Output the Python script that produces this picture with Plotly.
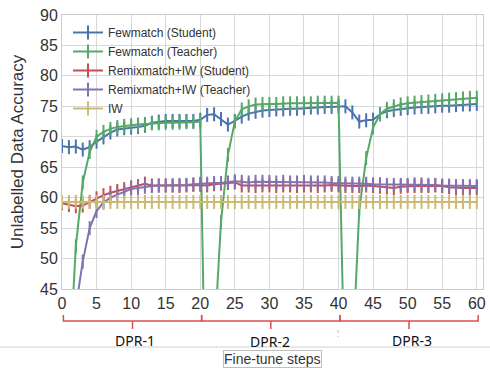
import plotly.graph_objects as go

steps = list(range(61))

fewmatch_student = [68.5, 68.3, 68.4, 67.9, 68.3, 69.2, 69.9, 70.7, 71.2, 71.4,
                    71.5, 71.6, 71.8, 72.3, 72.5, 72.6, 72.6, 72.6, 72.6, 72.6,
                    72.8, 73.6, 73.7, 72.9, 72.0, 72.6, 73.3, 73.8, 74.1, 74.3,
                    74.4, 74.5, 74.5, 74.6, 74.6, 74.7, 74.8, 74.8, 74.9, 74.9,
                    75.0, 75.0, 74.0, 72.5, 72.7, 72.8, 73.7, 74.2, 74.4, 74.6,
                    74.7, 74.8, 74.9, 74.9, 75.0, 75.1, 75.1, 75.2, 75.3, 75.3,
                    75.4]
fewmatch_teacher = [15.0, 31.0, 52.0, 62.5, 67.5, 70.0, 70.8, 71.3, 71.6, 71.8,
                    71.9, 72.0, 72.1, 72.2, 72.2, 72.3, 72.3, 72.3, 72.4, 72.4,
                    72.5, 10.0, 36.0, 56.0, 67.0, 72.5, 74.5, 75.0, 75.3, 75.4,
                    75.4, 75.4, 75.5, 75.5, 75.5, 75.5, 75.5, 75.6, 75.6, 75.6,
                    75.6, 24.0, 33.0, 58.0, 66.5, 71.5, 73.7, 74.6, 75.0, 75.3,
                    75.5, 75.6, 75.7, 75.8, 75.9, 76.0, 76.1, 76.2, 76.3, 76.4,
                    76.4]
remix_student = [59.1, 58.8, 58.6, 58.7, 59.3, 59.9, 60.4, 60.8, 61.1, 61.4,
                 61.7, 61.9, 62.3, 62.0, 62.0, 62.0, 62.0, 61.9, 62.0, 62.1,
                 62.1, 62.0, 62.2, 62.3, 62.4, 62.5, 62.0, 62.0, 61.9, 62.0,
                 62.0, 61.9, 62.0, 62.0, 61.9, 62.0, 62.0, 61.9, 62.0, 62.1,
                 62.0, 61.9, 61.9, 61.9, 62.0, 61.9, 61.8, 61.7, 61.6, 61.8,
                 61.9, 61.9, 61.9, 61.9, 62.0, 61.9, 61.7, 61.6, 61.6, 61.6,
                 61.6]
remix_teacher = [28.0, 36.0, 42.0, 49.5, 55.0, 57.8, 59.2, 60.0, 60.5, 61.0,
                 61.4, 61.6, 61.8, 61.9, 62.0, 62.0, 62.0, 62.1, 62.1, 62.2,
                 62.3, 62.3, 62.4, 62.4, 62.5, 62.7, 62.6, 62.5, 62.6, 62.6,
                 62.6, 62.5, 62.6, 62.5, 62.5, 62.6, 62.5, 62.5, 62.5, 62.4,
                 62.4, 62.3, 62.3, 62.3, 62.3, 62.2, 62.2, 62.1, 62.1, 62.1,
                 62.1, 62.2, 62.2, 62.1, 62.1, 62.0, 62.0, 61.9, 61.9, 61.9,
                 61.9]
iw = [59.3, 59.3, 59.3, 59.3, 59.3, 59.3, 59.3, 59.3, 59.3, 59.3,
      59.3, 59.3, 59.3, 59.3, 59.3, 59.3, 59.3, 59.3, 59.3, 59.3,
      59.3, 59.3, 59.3, 59.3, 59.3, 59.3, 59.3, 59.3, 59.3, 59.3,
      59.3, 59.3, 59.3, 59.3, 59.3, 59.3, 59.3, 59.3, 59.3, 59.3,
      59.3, 59.3, 59.3, 59.3, 59.3, 59.3, 59.3, 59.3, 59.3, 59.3,
      59.3, 59.3, 59.3, 59.3, 59.3, 59.3, 59.3, 59.3, 59.3, 59.3,
      59.3]

series_names = ["Fewmatch (Student)", "Fewmatch (Teacher)", "Remixmatch+IW (Student)",
                "Remixmatch+IW (Teacher)", "IW"]
series_values = [fewmatch_student, fewmatch_teacher, remix_student, remix_teacher, iw]
series_colors = ["#4C72B0", "#55A868", "#C44E52", "#8172B2", "#CCB974"]

x_ticks = [0, 5, 10, 15, 20, 25, 30, 35, 40, 45, 50, 55, 60]
y_ticks = [45, 50, 55, 60, 65, 70, 75, 80, 85, 90]
segment_labels = ["DPR-1", "DPR-2", "DPR-3"]
segment_bounds = [(0, 20), (20, 40), (40, 60)]

FONT = "Liberation Sans, Arial, sans-serif"

fig = go.Figure()
for name, vals, col in zip(series_names, series_values, series_colors):
    fig.add_trace(go.Scatter(
        x=steps, y=vals, name=name, mode="lines+markers",
        line=dict(color=col, width=2),
        marker=dict(symbol="line-ns-open", size=10, color=col,
                    line=dict(width=2, color=col)),
    ))

# layout geometry (pixels)
L, R, T, B = 62, 7, 15, 79
W, H = 490, 368
pw = W - L - R
ph = H - T - B

def py(p):
    return (H - B - p) / ph

def px(p):
    return (p - L) / pw

shapes = []
brace_col = "#D9504E"
for (a, b) in segment_bounds:
    a2, b2 = a + 0.2, b + 0.2
    mid = (a2 + b2) / 2
    shapes.append(dict(type="path", xref="x", yref="paper",
                       path=f"M {a2},{py(315)} L {a2},{py(321)} L {b2},{py(321)} L {b2},{py(315)}",
                       line=dict(color=brace_col, width=1.5)))
    shapes.append(dict(type="line", xref="x", yref="paper",
                       x0=mid, x1=mid, y0=py(321), y1=py(329),
                       line=dict(color=brace_col, width=1.5)))
shapes.append(dict(type="line", xref="paper", yref="paper",
                   x0=px(0), x1=px(490), y0=py(347), y1=py(347),
                   line=dict(color="#d0d0d0", width=1)))
shapes.append(dict(type="line", xref="paper", yref="paper",
                   x0=px(338), x1=px(338), y0=py(330), y1=py(337),
                   line=dict(color="#bbbbbb", width=1, dash="dot")))

annotations = []
label_px = [(135, 340), (270, 341), (412, 340)]
for lab, (lx, ly) in zip(segment_labels, label_px):
    annotations.append(dict(text=lab, xref="paper", yref="paper",
                            x=px(lx), y=py(ly), showarrow=False,
                            xanchor="center", yanchor="middle",
                            font=dict(family="Noto Sans, Liberation Sans, sans-serif",
                                      size=14, color="#111111")))
annotations.append(dict(text="Fine-tune steps", xref="paper", yref="paper",
                        x=px(272), y=py(359.5), showarrow=False,
                        xanchor="center", yanchor="middle",
                        bordercolor="#bfbfbf", borderwidth=1, borderpad=0,
                        bgcolor="white",
                        font=dict(family=FONT, size=14, color="#333333")))

fig.update_layout(
    width=W, height=H,
    margin=dict(l=L, r=R, t=T, b=B, autoexpand=False),
    paper_bgcolor="white", plot_bgcolor="white",
    font=dict(family=FONT, color="#333333"),
    showlegend=True,
    legend=dict(x=px(68), y=py(18), xanchor="left", yanchor="top",
                bgcolor="rgba(0,0,0,0)", borderwidth=0,
                font=dict(size=12, color="#333333"),
                tracegroupgap=0),
    shapes=shapes,
    annotations=annotations,
)
fig.update_xaxes(range=[0, 60.9], tickvals=x_ticks, showgrid=True,
                 gridcolor="#d8d8d8", gridwidth=1, zeroline=False,
                 showline=True, linecolor="#cccccc", linewidth=1, mirror=True,
                 ticks="", tickfont=dict(size=16, color="#333333"), automargin=False)
fig.update_yaxes(range=[45, 90], tickvals=y_ticks, showgrid=True,
                 gridcolor="#d8d8d8", gridwidth=1, zeroline=False,
                 showline=True, linecolor="#cccccc", linewidth=1, mirror=True,
                 ticks="", tickfont=dict(size=16, color="#333333"), automargin=False,
                 title=dict(text="Unlabelled Data Accuracy", standoff=12,
                            font=dict(size=17, color="#333333")))

fig.write_html("out.html", config={"displayModeBar": False},
               post_script="document.body.style.margin='0';document.body.style.padding='0';")
